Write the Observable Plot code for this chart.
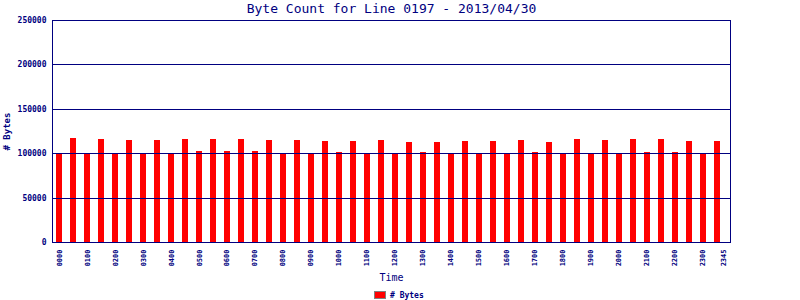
<!DOCTYPE html>
<html>
<head>
<meta charset="utf-8">
<script src="https://cdn.jsdelivr.net/npm/d3@7"></script>
<script src="https://cdn.jsdelivr.net/npm/@observablehq/plot@0.6"></script>
<style>
  html, body { margin: 0; padding: 0; background: #fff; }
  #chart { width: 800px; height: 300px; position: relative; }
  .legend { position: absolute; left: 374px; top: 291px; height: 8px; display: flex; align-items: center;
            font-family: "DejaVu Sans Mono", monospace; font-size: 8px; font-weight: bold; color: #000080; }
  .sw { width: 10px; height: 6px; background: #ff0000; border: 1px solid #808080; margin-right: 4px; }
</style>
</head>
<body>
<div id="chart"></div>
<script>
const titleText = "Byte Count for Line 0197 - 2013/04/30";
const times = ["0000","0030","0100","0130","0200","0230","0300","0330","0400","0430","0500","0530",
  "0600","0630","0700","0730","0800","0830","0900","0930","1000","1030","1100","1130",
  "1200","1230","1300","1330","1400","1430","1500","1530","1600","1630","1700","1730",
  "1800","1830","1900","1930","2000","2030","2100","2130","2200","2230","2300","2330"];
const bytes = [99900,117100,99900,116000,99900,114900,99900,114900,99900,116000,102500,116000,
  102500,116000,102500,114900,99900,114900,99900,113700,101400,113700,99900,114900,
  99900,112600,101400,112600,99900,113700,99900,113700,99900,114900,101400,112600,
  99900,116000,99900,114900,99900,116000,101400,116000,101400,113700,99900,113700];
const xTickLabels = ["0000","0100","0200","0300","0400","0500","0600","0700","0800","0900","1000","1100",
  "1200","1300","1400","1500","1600","1700","1800","1900","2000","2100","2200","2300","2345"];
const yTicks = [0, 50000, 100000, 150000, 200000, 250000];

const toMin = s => +s.slice(0, 2) * 60 + +s.slice(2);
const data = times.map((t, i) => ({t, m: toMin(t), v: bytes[i]}));
const xTickMins = xTickLabels.map(toMin);
const navy = "#000080";
const mono = "DejaVu Sans Mono";

const plot = Plot.plot({
  width: 800,
  height: 288,
  marginTop: 20,
  marginLeft: 52,
  marginRight: 70,
  marginBottom: 46,
  style: {background: "#fff", color: navy},
  x: {type: "linear", domain: [-15, 1440]},
  y: {domain: [0, 250000]},
  marks: [
    Plot.ruleX(data, {x: "m", y1: 0, y2: "v", stroke: "#ff0000", strokeWidth: 6, shapeRendering: "crispEdges"}),
    Plot.ruleY(yTicks, {stroke: navy, strokeWidth: 1, shapeRendering: "crispEdges"}),
    Plot.frame({stroke: navy, strokeWidth: 1, shapeRendering: "crispEdges"}),
    Plot.axisY({ticks: yTicks, tickSize: 0, tickPadding: 6, tickFormat: d => String(d), label: null,
      fontFamily: mono, fontSize: 8, fontWeight: "bold", fill: navy}),
    Plot.axisX({ticks: xTickMins, tickFormat: d => xTickLabels[xTickMins.indexOf(d)],
      tickSize: 0, tickPadding: 7, tickRotate: -90, label: null, fontFamily: mono, fontSize: 7, fontWeight: "bold", fill: navy}),
    Plot.text([titleText], {text: d => d, frameAnchor: "top", lineAnchor: "middle", dy: -12, fontFamily: mono, fontSize: 13, fill: navy}),
    Plot.text(["Time"], {text: d => d, frameAnchor: "bottom", lineAnchor: "middle", dy: 35, fontFamily: mono, fontSize: 10, fill: navy}),
    Plot.text(["# Bytes"], {text: d => d, frameAnchor: "left", textAnchor: "middle", lineAnchor: "middle", dx: -45, rotate: -90, fontFamily: mono, fontSize: 9, fontWeight: "bold", fill: navy})
  ]
});
const chart = document.getElementById("chart");
chart.appendChild(plot);
const leg = document.createElement("div");
leg.className = "legend";
leg.innerHTML = '<div class="sw"></div><span># Bytes</span>';
chart.appendChild(leg);
</script>
</body>
</html>
